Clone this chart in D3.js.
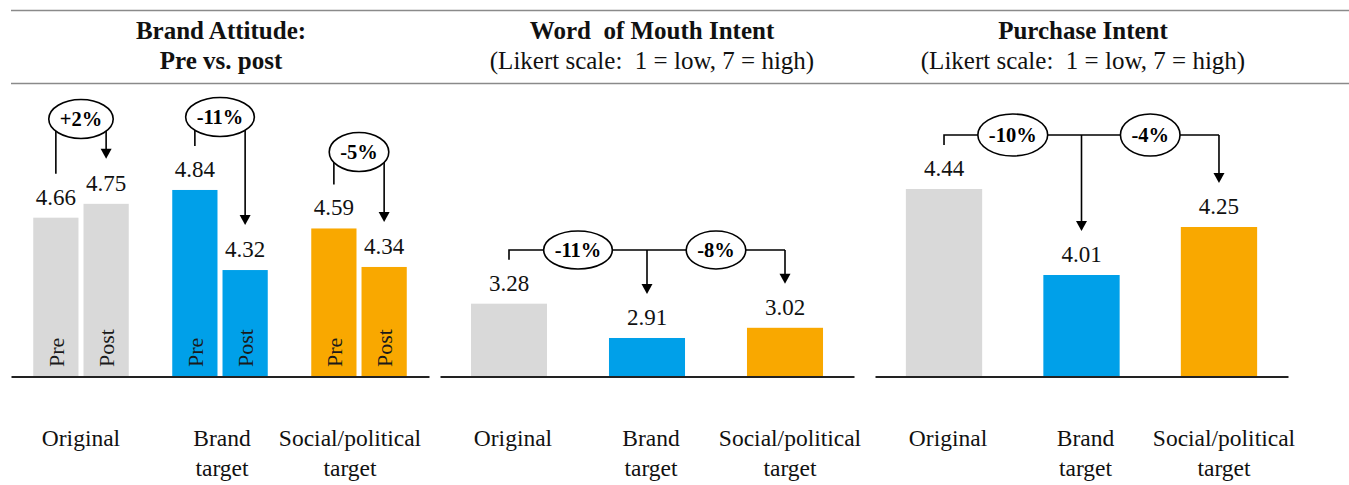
<!DOCTYPE html>
<html><head><meta charset="utf-8">
<script src="https://cdn.jsdelivr.net/npm/d3@7"></script>
<style>
html,body{margin:0;padding:0;background:#fff;}
svg{display:block;font-family:"Liberation Serif","Times New Roman",serif;}
</style></head><body>
<svg id="chart" width="1349" height="485"></svg>
<script>
// ---------------- data ----------------
const categories = ["Original", "Brand target", "Social/political target"];
const categoryLines = [["Original"], ["Brand", "target"], ["Social/political", "target"]];
const phases = ["Pre", "Post"];
const attitudePre = [4.66, 4.84, 4.59];
const attitudePost = [4.75, 4.32, 4.34];
const attitudeChange = ["+2%", "-11%", "-5%"];
const womValues = [3.28, 2.91, 3.02];
const womChange = ["-11%", "-8%"];
const purchaseValues = [4.44, 4.01, 4.25];
const purchaseChange = ["-10%", "-4%"];
const titleLine1 = ["Brand Attitude:", "Word  of Mouth Intent", "Purchase Intent"];
const titleLine2 = ["Pre vs. post", "(Likert scale:  1 = low, 7 = high)", "(Likert scale:  1 = low, 7 = high)"];
const colors = ["#D9D9D9", "#00A0E9", "#F9A800"];

// ---------------- layout ----------------
const W = 1349, H = 485;
const baseY = 376;
const panels = [
  {x0: 11, x1: 429, pi: 0.313, po: 0.16, yMin: 3.632, ppu: 154, titleX: 221, labelDx: [0, 2, -9], bracketY: [119, 117, 152], ry: 19.5},
  {x0: 440, x1: 854, pi: 0.449, po: 0.2245, yMin: 2.50, ppu: 92.7, titleX: 652, labelDx: [4, 4, 5], bracketY: 250, ry: 19},
  {x0: 875, x1: 1288, pi: 0.445, po: 0.2245, yMin: 3.505, ppu: 200, titleX: 1083, labelDx: [4, 4, 5], bracketY: 135, ry: 21}
];
const ink = "#111";
const svg = d3.select("#chart");

// rules
svg.append("line").attr("x1", 11).attr("x2", W).attr("y1", 10.5).attr("y2", 10.5)
  .attr("stroke", "#8a8a8a").attr("stroke-width", 1.6);
svg.append("line").attr("x1", 11).attr("x2", W).attr("y1", 83.5).attr("y2", 83.5)
  .attr("stroke", "#8a8a8a").attr("stroke-width", 1.6);

panels.forEach((p, pi) => {
  const g = svg.append("g");
  p.x = d3.scaleBand().domain(categories).range([p.x0, p.x1]).paddingInner(p.pi).paddingOuter(p.po);
  p.y = d3.scaleLinear().domain([p.yMin, p.yMin + 1]).range([baseY, baseY - p.ppu]);
  // titles
  g.append("text").attr("x", p.titleX).attr("y", 39).attr("text-anchor", "middle")
    .attr("font-size", 25).attr("font-weight", "bold").attr("fill", ink)
    .style("white-space", "pre").text(titleLine1[pi]);
  g.append("text").attr("x", p.titleX).attr("y", 69).attr("text-anchor", "middle")
    .attr("font-size", 25).attr("font-weight", pi === 0 ? "bold" : "normal").attr("fill", ink)
    .style("white-space", "pre").text(titleLine2[pi]);
  // baseline axis
  const ax = g.append("g").attr("transform", `translate(0,${baseY + 0.5})`)
    .call(d3.axisBottom(p.x).tickSize(0).tickSizeOuter(0).tickFormat(() => ""));
  ax.select(".domain").attr("stroke", "#222").attr("stroke-width", 2);
  // category labels
  categories.forEach((c, ci) => {
    const t = g.append("text").attr("text-anchor", "middle").attr("font-size", 23.5).attr("fill", ink);
    categoryLines[ci].forEach((ln, li) => {
      t.append("tspan").attr("x", p.x(c) + p.x.bandwidth() / 2 + p.labelDx[ci]).attr("y", 446 + li * 30).text(ln);
    });
  });
});

// helper: arrow
function arrow(g, x, fromY, tipY) {
  g.append("path").attr("d", `M${x},${fromY}V${tipY - 9}`).attr("stroke", "#000").attr("stroke-width", 1.6).attr("fill", "none");
  g.append("path").attr("d", `M${x - 5.5},${tipY - 10}L${x + 5.5},${tipY - 10}L${x},${tipY}Z`).attr("fill", "#000");
}
function badge(g, cx, cy, ry, label) {
  const el = g.append("ellipse").attr("cx", cx).attr("cy", cy).attr("ry", ry)
    .attr("fill", "#fff").attr("stroke", "#000").attr("stroke-width", 1.6);
  const t = g.append("text").attr("x", cx).attr("y", cy).attr("dy", "0.35em").attr("text-anchor", "middle")
    .attr("font-size", 20.5).attr("font-weight", "bold").attr("fill", "#000").text(label);
  el.attr("rx", t.node().getComputedTextLength() / 2 + 11);
}
function valueLabel(g, x, yTop, v) {
  g.append("text").attr("x", x).attr("y", yTop - 13).attr("text-anchor", "middle")
    .attr("font-size", 23).attr("fill", ink).text(v.toFixed(2));
}

// ---------------- panel 1: brand attitude pre/post ----------------
{
  const p = panels[0];
  const g = svg.append("g");
  const x1 = d3.scaleBand().domain(phases).range([0, p.x.bandwidth()]).paddingInner(0.1);
  const rows = categories.map((c, i) => ({c, i, vals: [attitudePre[i], attitudePost[i]]}));
  rows.forEach(r => {
    phases.forEach((ph, k) => {
      const v = r.vals[k];
      const bx = p.x(r.c) + x1(ph);
      const cx = bx + x1.bandwidth() / 2;
      g.append("rect").attr("x", bx).attr("y", p.y(v)).attr("width", x1.bandwidth())
        .attr("height", p.y(p.yMin) - p.y(v)).attr("fill", colors[r.i]);
      valueLabel(g, cx, p.y(v), v);
      g.append("text").attr("transform", `translate(${cx},367) rotate(-90)`).attr("dy", "0.35em")
        .attr("font-size", 22).attr("fill", "#1a1a1a").text(ph);
    });
    const cxPre = p.x(r.c) + x1("Pre") + x1.bandwidth() / 2;
    const cxPost = p.x(r.c) + x1("Post") + x1.bandwidth() / 2;
    const topY = p.bracketY[r.i];
    g.append("path").attr("d", `M${cxPre},${p.y(r.vals[0]) - 44}V${topY}H${cxPost}`)
      .attr("stroke", "#000").attr("stroke-width", 1.6).attr("fill", "none");
    arrow(g, cxPost, topY, p.y(r.vals[1]) - 45);
    badge(g, (cxPre + cxPost) / 2, topY, p.ry, attitudeChange[r.i]);
  });
}

// ---------------- panels 2 & 3 ----------------
[[panels[1], womValues, womChange], [panels[2], purchaseValues, purchaseChange]].forEach(([p, vals, chg]) => {
  const g = svg.append("g");
  const cxs = categories.map(c => p.x(c) + p.x.bandwidth() / 2);
  categories.forEach((c, i) => {
    const v = vals[i];
    g.append("rect").attr("x", p.x(c)).attr("y", p.y(v)).attr("width", p.x.bandwidth())
      .attr("height", p.y(p.yMin) - p.y(v)).attr("fill", colors[i]);
    valueLabel(g, cxs[i], p.y(v), v);
  });
  const L = p.bracketY;
  g.append("path").attr("d", `M${cxs[0]},${p.y(vals[0]) - 44}V${L}H${cxs[2]}`)
    .attr("stroke", "#000").attr("stroke-width", 1.6).attr("fill", "none");
  arrow(g, cxs[1], L, p.y(vals[1]) - 44);
  arrow(g, cxs[2], L, p.y(vals[2]) - 44);
  badge(g, (cxs[0] + cxs[1]) / 2, L, p.ry, chg[0]);
  badge(g, (cxs[1] + cxs[2]) / 2, L, p.ry, chg[1]);
});
</script>
</body></html>
